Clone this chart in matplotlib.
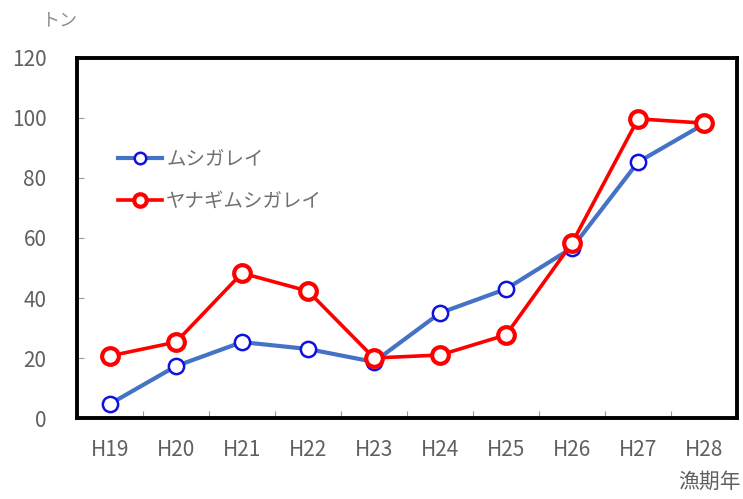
import matplotlib
matplotlib.use("Agg")
import matplotlib.pyplot as plt

plt.rcParams['font.family'] = ['Noto Sans CJK JP', 'DejaVu Sans']

categories = ["H19", "H20", "H21", "H22", "H23", "H24", "H25", "H26", "H27", "H28"]
mushi = [4.7, 17.3, 25.3, 23.0, 18.7, 35.0, 43.0, 56.7, 85.3, 98.0]
yanagi = [20.7, 25.3, 48.3, 42.3, 20.0, 21.0, 27.7, 58.3, 99.7, 98.3]
yticks = [0, 20, 40, 60, 80, 100, 120]

fig = plt.figure(figsize=(7.43, 4.99), dpi=100)
ax = fig.add_axes([0.1036, 0.1623, 0.8884, 0.7215])

x = list(range(len(categories)))
ax.plot(x, mushi, color="#4472C4", lw=3, marker="o", markersize=11,
        markerfacecolor="white", markeredgecolor="#1010E0", markeredgewidth=1.8,
        label="ムシガレイ", zorder=3)
ax.plot(x, yanagi, color="#FF0000", lw=2.6, marker="o", markersize=12,
        markerfacecolor="white", markeredgecolor="#FF0000", markeredgewidth=3,
        label="ヤナギムシガレイ", zorder=4)

ax.set_xlim(-0.5, len(categories) - 0.5)
ax.set_ylim(0, 120)
ax.set_yticks(yticks)
ax.set_yticklabels([str(v) for v in yticks])
ax.set_xticks(x)
ax.set_xticklabels(categories)
ax.set_xticks([i + 0.5 for i in range(len(categories) - 1)], minor=True)

for s in ax.spines.values():
    s.set_linewidth(2.8)
    s.set_color("black")

ax.tick_params(axis="x", which="major", length=0, pad=15, labelsize=15, labelcolor="#606060")
ax.tick_params(axis="x", which="minor", direction="in", length=5, width=0.8, color="#999999")
ax.tick_params(axis="y", which="major", direction="in", length=5, width=0.8, color="#999999",
               pad=22, labelsize=15, labelcolor="#606060")

leg = ax.legend(loc="upper left", bbox_to_anchor=(0.035, 0.795), frameon=False,
                fontsize=14, handlelength=2.3, labelspacing=1.05, handletextpad=0.2,
                markerscale=0.75, labelcolor="#707070")

fig.text(0.055, 0.958, "トン", fontsize=13, color="#909090", ha="left", va="center")
fig.text(0.955, 0.035, "漁期年", fontsize=15, color="#606060", ha="center", va="center")

fig.savefig("out.png", dpi=100)
